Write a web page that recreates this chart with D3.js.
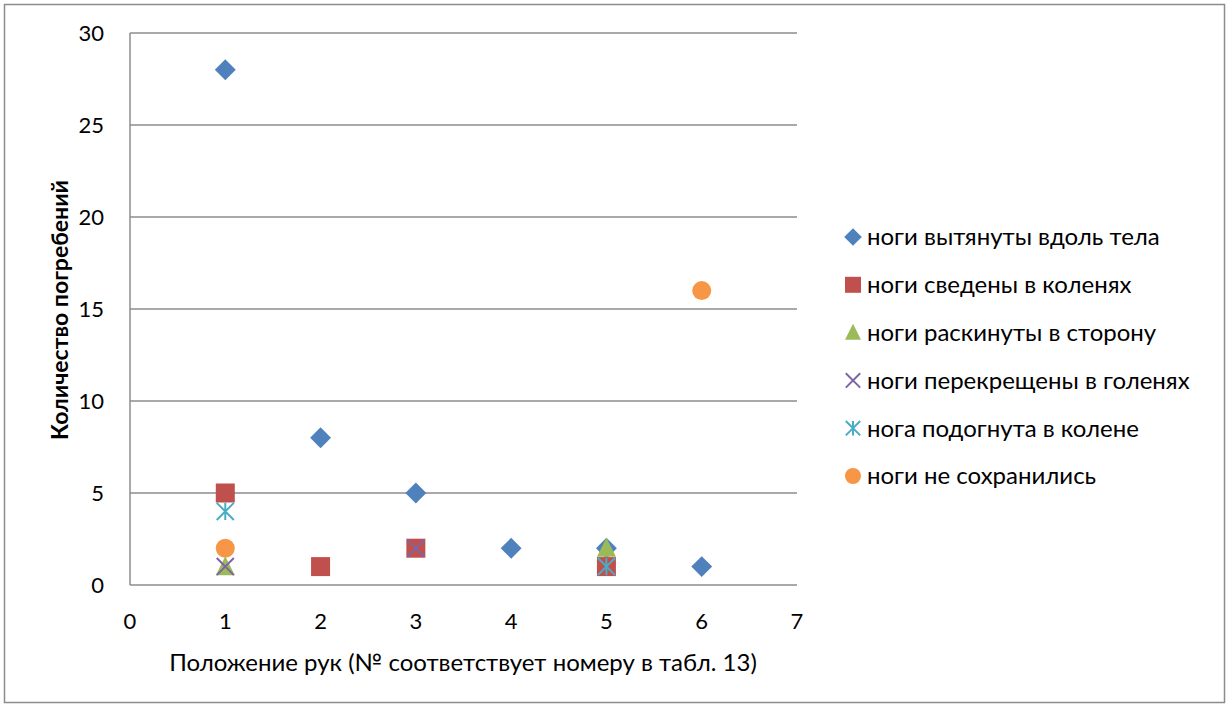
<!DOCTYPE html>
<html><head><meta charset="utf-8">
<script src="https://cdn.jsdelivr.net/npm/d3@7"></script>
<style>body{margin:0;background:#fff}svg{display:block}text{font-family:Lato,"Open Sans",sans-serif}</style>
</head><body>
<svg id="c" width="1227" height="704"></svg>
<script>
const seriesNames = ["ноги вытянуты вдоль тела","ноги сведены в коленях","ноги раскинуты в сторону","ноги перекрещены в голенях","нога подогнута в колене","ноги не сохранились"];
const s1 = [[1,28],[2,8],[3,5],[4,2],[5,2],[6,1]];
const s2 = [[1,5],[2,1],[3,2],[5,1]];
const s3 = [[1,1],[5,2]];
const s4 = [[1,1],[3,2]];
const s5 = [[1,4],[5,1]];
const s6 = [[1,2],[6,16]];
const xTicks = [0,1,2,3,4,5,6,7];
const yTicks = [0,5,10,15,20,25,30];
const xTitle = "Положение рук (№ соответствует номеру в табл. 13)";
const yTitle = "Количество погребений";

const series = [s1,s2,s3,s4,s5,s6];
const colors = ["#4F81BD","#C0504D","#9BBB59","#8064A2","#4BACC6","#F79646"];
const shapes = ["diamond","square","triangle","x","star","circle"];

const svg = d3.select("#c");
svg.append("rect").attr("x",4.5).attr("y",4.5).attr("width",1220).attr("height",698).attr("fill","#fff").attr("stroke","#8c8c8c").attr("stroke-width",1.5);

const L=130,R=797,T=33,B=585;
const x = d3.scaleLinear().domain([0,7]).range([L,R]);
const y = d3.scaleLinear().domain([0,30]).range([B,T]);

svg.append("g").selectAll("line").data(yTicks).join("line")
  .attr("x1",L).attr("x2",R).attr("y1",d=>y(d)).attr("y2",d=>y(d))
  .attr("stroke","#8c8c8c").attr("stroke-width",1.5);
svg.append("line").attr("x1",L).attr("x2",L).attr("y1",T).attr("y2",B).attr("stroke","#8c8c8c").attr("stroke-width",1.5);

svg.append("g").selectAll("text").data(yTicks).join("text")
  .attr("x",104).attr("y",d=>y(d)).attr("dy","0.35em").attr("text-anchor","end")
  .attr("font-size",22).text(d=>d);
svg.append("g").selectAll("text").data(xTicks).join("text")
  .attr("x",d=>x(d)).attr("y",621).attr("dy","0.35em").attr("text-anchor","middle")
  .attr("font-size",22).text(d=>d);

svg.append("text").attr("x",463).attr("y",663).attr("dy","0.35em").attr("text-anchor","middle").attr("font-size",24).text(xTitle);
svg.append("text").attr("transform","translate(60,310) rotate(-90)").attr("dy","0.35em").attr("text-anchor","middle").attr("font-size",23).attr("font-weight","bold").text(yTitle);

function drawMarker(g, shape, color, cx, cy, s){
  if(shape==="diamond"){
    g.append("path").attr("d",`M${cx},${cy-s*0.55}L${cx+s*0.55},${cy}L${cx},${cy+s*0.55}L${cx-s*0.55},${cy}Z`).attr("fill",color);
  } else if(shape==="square"){
    g.append("rect").attr("x",cx-s/2).attr("y",cy-s/2).attr("width",s).attr("height",s).attr("fill",color);
  } else if(shape==="triangle"){
    g.append("path").attr("d",`M${cx},${cy-s*0.55}L${cx+s*0.5},${cy+s*0.45}L${cx-s*0.5},${cy+s*0.45}Z`).attr("fill",color);
  } else if(shape==="x"){
    const h=s*0.45;
    g.append("path").attr("d",`M${cx-h},${cy-h}L${cx+h},${cy+h}M${cx+h},${cy-h}L${cx-h},${cy+h}`).attr("stroke",color).attr("stroke-width",2).attr("fill","none");
  } else if(shape==="star"){
    const h=s*0.45;
    g.append("path").attr("d",`M${cx-h},${cy-h}L${cx+h},${cy+h}M${cx+h},${cy-h}L${cx-h},${cy+h}M${cx},${cy-h}L${cx},${cy+h}`).attr("stroke",color).attr("stroke-width",2).attr("fill","none");
  } else if(shape==="circle"){
    g.append("circle").attr("cx",cx).attr("cy",cy).attr("r",s/2).attr("fill",color);
  }
}

const pts = svg.append("g");
series.forEach((s,i)=>{
  s.forEach(d=>drawMarker(pts, shapes[i], colors[i], x(d[0]), y(d[1]), 19));
});

const leg = svg.append("g");
const legY0 = 237, legStep = 47.8;
seriesNames.forEach((n,i)=>{
  const cy = legY0 + i*legStep;
  drawMarker(leg, shapes[i], colors[i], 853, cy, 16);
  leg.append("text").attr("x",867).attr("y",cy).attr("dy","0.35em").attr("font-size",24).text(n);
});
</script>
</body></html>
